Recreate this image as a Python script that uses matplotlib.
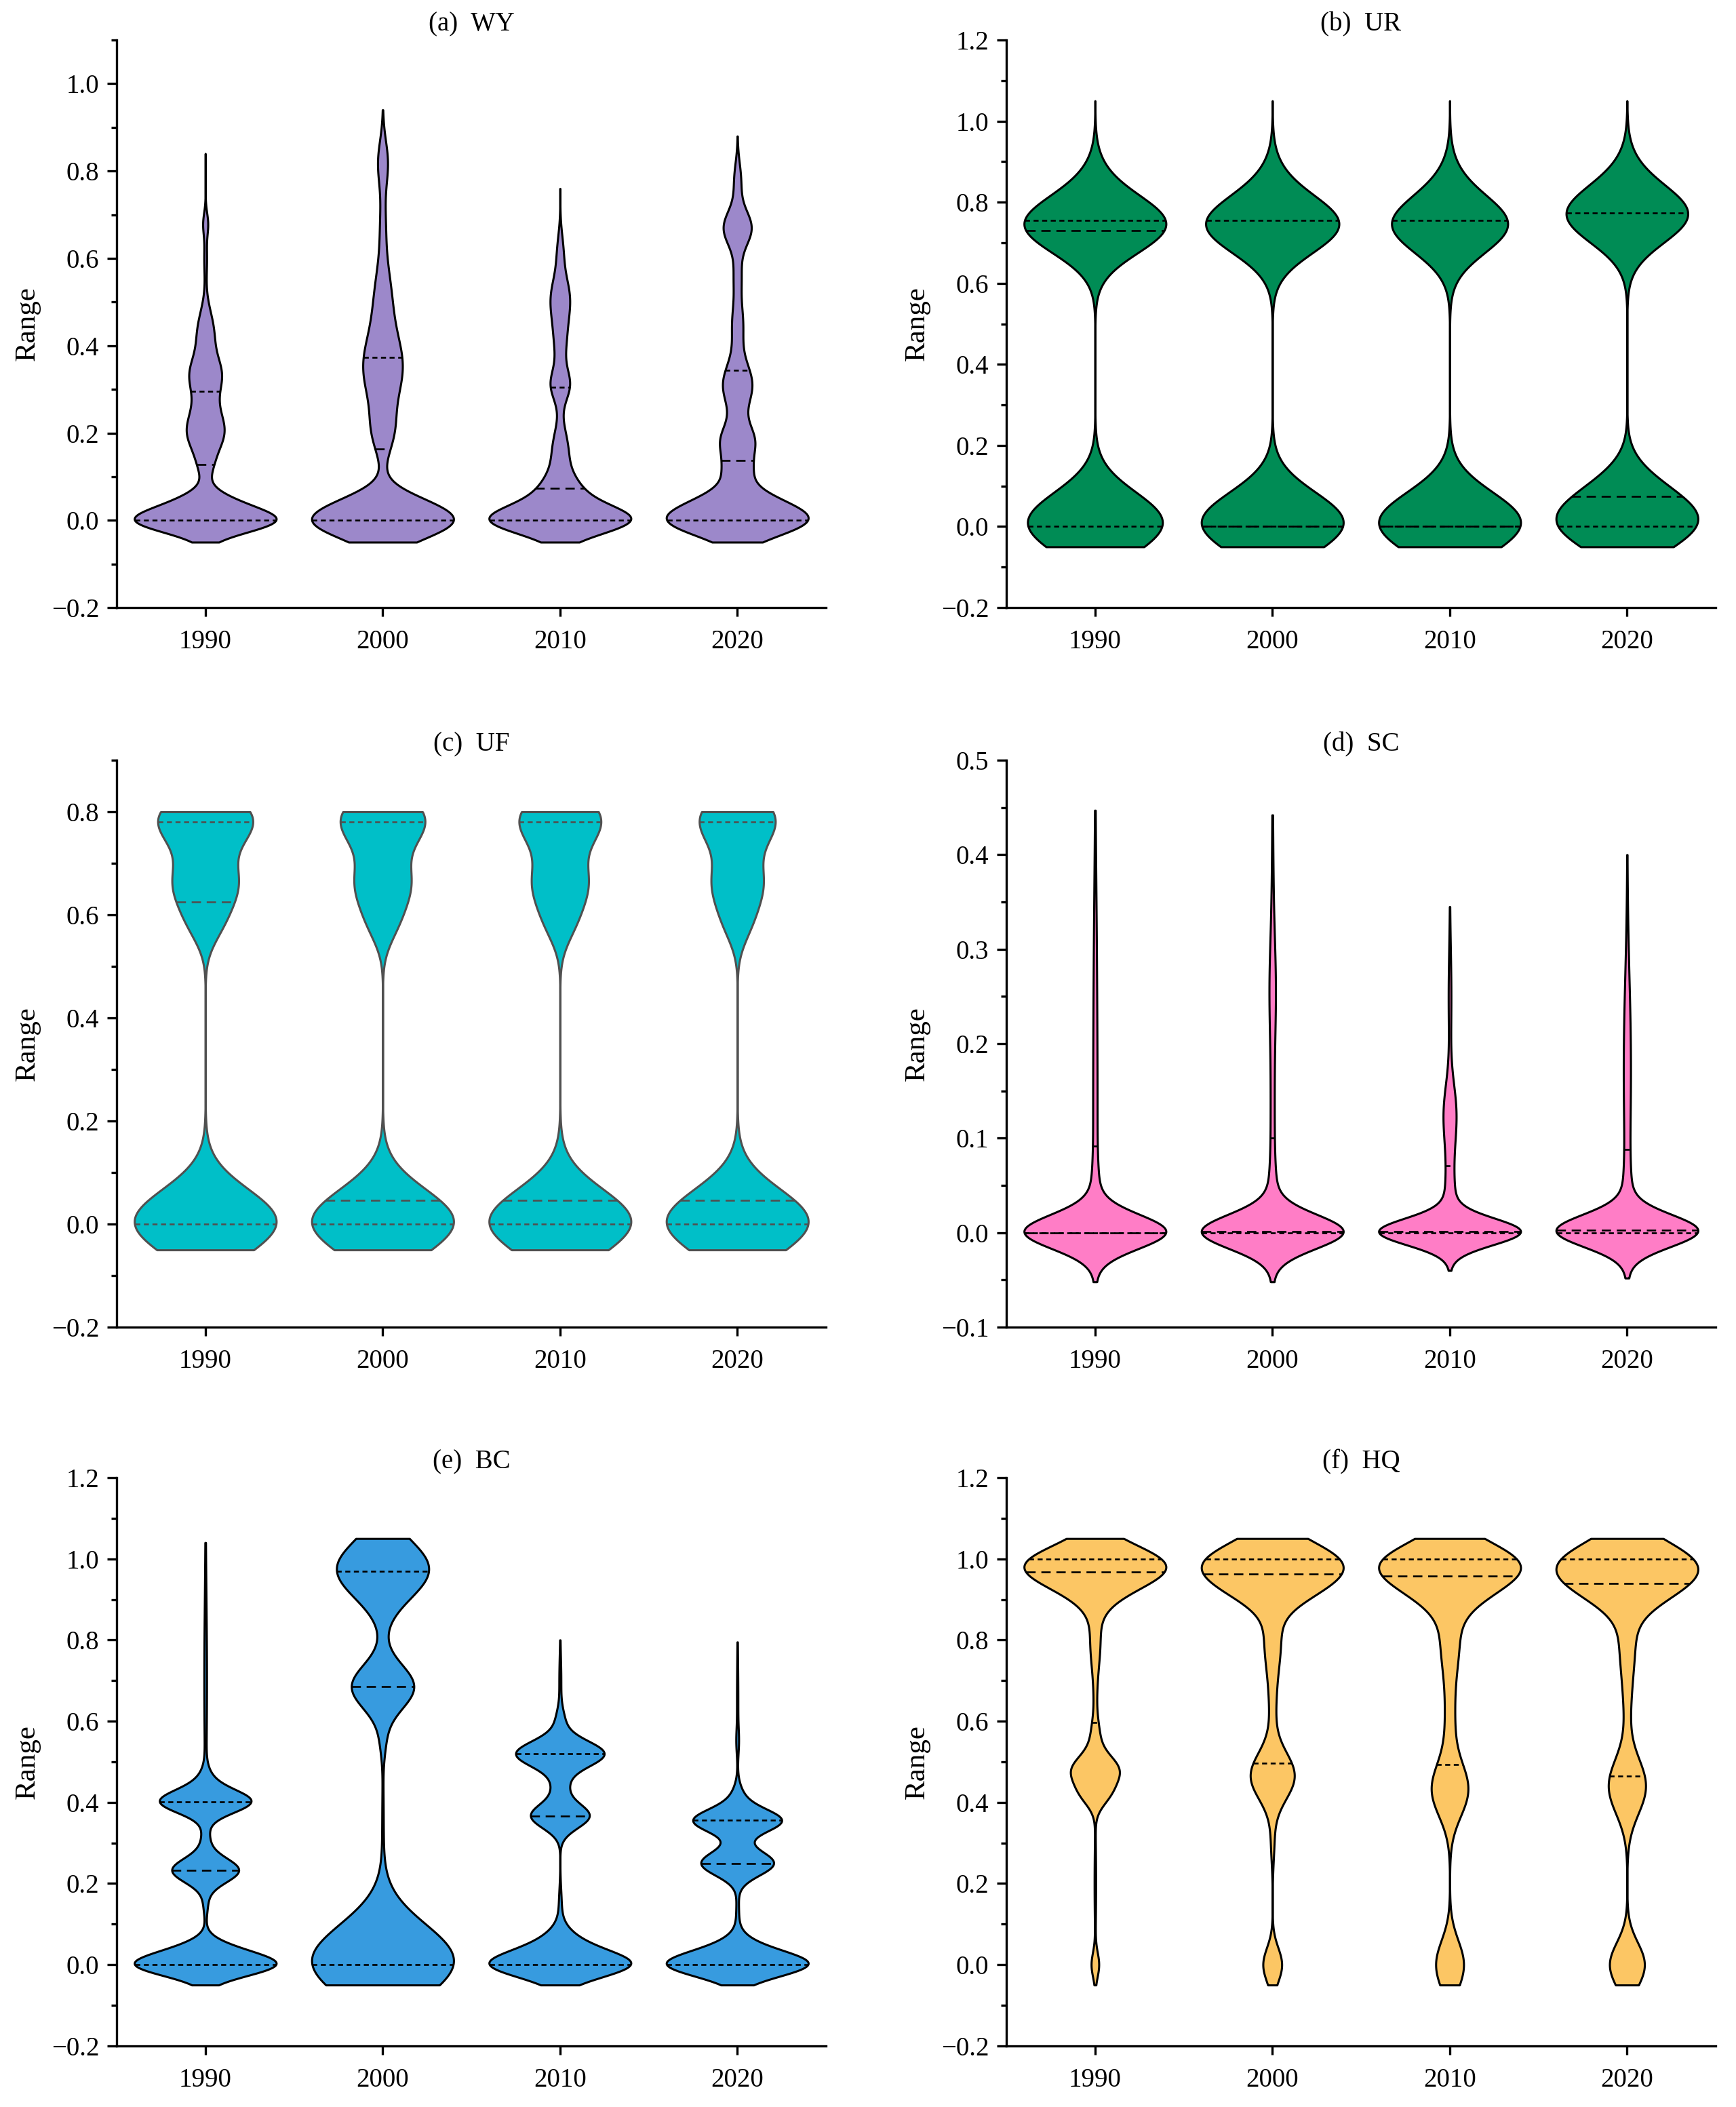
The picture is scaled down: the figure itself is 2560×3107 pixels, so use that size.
import numpy as np
import matplotlib
matplotlib.use("Agg")
import matplotlib.pyplot as plt
from matplotlib.ticker import MultipleLocator, FuncFormatter

plt.rcParams['font.family'] = ['Liberation Serif', 'DejaVu Serif']
plt.rcParams['axes.unicode_minus'] = True

years = ['1990', '2000', '2010', '2020']

# ---- violin shapes: density components (centre, spread, relative width) ----
WY_comps = [
    [(0.0, 0.028, 1.0), (0.045, 0.025, 0.25), (0.12, 0.03, 0.06), (0.2, 0.045, 0.26),
     (0.27, 0.04, 0.08), (0.335, 0.04, 0.2), (0.43, 0.05, 0.12), (0.6, 0.04, 0.02), (0.68, 0.025, 0.035)],
    [(0.0, 0.042, 1.0), (0.05, 0.03, 0.1), (0.2, 0.05, 0.12), (0.35, 0.08, 0.28),
     (0.52, 0.07, 0.1), (0.68, 0.06, 0.035), (0.82, 0.05, 0.07)],
    [(0.0, 0.032, 1.0), (0.06, 0.04, 0.3), (0.16, 0.05, 0.12), (0.31, 0.035, 0.14),
     (0.41, 0.05, 0.08), (0.51, 0.05, 0.14), (0.62, 0.04, 0.04)],
    [(0.0, 0.036, 1.0), (0.05, 0.03, 0.25), (0.11, 0.03, 0.15), (0.18, 0.04, 0.25), (0.31, 0.05, 0.22),
     (0.45, 0.05, 0.08), (0.56, 0.04, 0.05), (0.67, 0.04, 0.21), (0.78, 0.04, 0.05)],
]
WY_range = [(-0.05, 0.84), (-0.05, 0.94), (-0.05, 0.76), (-0.05, 0.88)]
WY_quart = [(0.0, 0.128, 0.296), (0.0, 0.163, 0.373), (0.0, 0.073, 0.305), (0.0, 0.137, 0.343)]

UR_comps = [
    [(0.01, 0.075, 0.96), (0.745, 0.07, 1.0), (0.86, 0.06, 0.06)],
    [(0.01, 0.075, 1.0), (0.745, 0.07, 0.93), (0.86, 0.06, 0.055)],
    [(0.01, 0.075, 1.0), (0.745, 0.07, 0.81), (0.86, 0.06, 0.05)],
    [(0.01, 0.07, 1.0), (0.1, 0.06, 0.2), (0.77, 0.07, 0.91), (0.88, 0.06, 0.05)],
]
UR_range = [(-0.05, 1.05)] * 4
UR_quart = [(0.0, 0.73, 0.755), (0.0, 0.0, 0.755), (0.0, 0.0, 0.755), (0.0, 0.074, 0.774)]

UF_comps = [
    [(0.005, 0.063, 1.0), (0.58, 0.04, 0.15), (0.66, 0.05, 0.42), (0.785, 0.05, 0.65)],
    [(0.005, 0.063, 1.0), (0.58, 0.04, 0.13), (0.66, 0.05, 0.36), (0.785, 0.05, 0.58)],
    [(0.005, 0.063, 1.0), (0.58, 0.04, 0.13), (0.66, 0.05, 0.36), (0.785, 0.05, 0.56)],
    [(0.005, 0.063, 1.0), (0.58, 0.04, 0.12), (0.66, 0.05, 0.33), (0.785, 0.05, 0.52)],
]
UF_range = [(-0.05, 0.8)] * 4
UF_quart = [(0.0, 0.625, 0.78), (0.0, 0.046, 0.78), (0.0, 0.046, 0.78), (0.0, 0.046, 0.78)]

SC_comps = [
    [(0.001, 0.018, 1.0), (0.03, 0.03, 0.04), (0.1, 0.12, 0.03), (0.3, 0.1, 0.015)],
    [(0.001, 0.018, 1.0), (0.03, 0.03, 0.04), (0.1, 0.12, 0.03), (0.26, 0.05, 0.03), (0.35, 0.08, 0.01)],
    [(0.001, 0.014, 1.0), (0.02, 0.025, 0.05), (0.07, 0.05, 0.05), (0.13, 0.03, 0.07), (0.25, 0.05, 0.02)],
    [(0.002, 0.017, 1.0), (0.03, 0.03, 0.04), (0.1, 0.12, 0.03), (0.2, 0.08, 0.03)],
]
SC_range = [(-0.052, 0.447), (-0.052, 0.442), (-0.04, 0.345), (-0.048, 0.4)]
SC_quart = [(0.0, 0.0, 0.092), (0.0, 0.001, 0.1), (0.0, 0.001, 0.071), (0.0, 0.0025, 0.088)]

BC_comps = [
    [(0.0, 0.028, 1.0), (0.04, 0.025, 0.22), (0.15, 0.03, 0.03), (0.233, 0.03, 0.5), (0.31, 0.03, 0.05),
     (0.402, 0.028, 0.66), (0.45, 0.03, 0.08), (0.7, 0.2, 0.02)],
    [(0.01, 0.09, 1.0), (0.35, 0.1, 0.01), (0.55, 0.04, 0.03), (0.685, 0.055, 0.44), (0.975, 0.072, 0.65)],
    [(0.0, 0.032, 1.0), (0.05, 0.035, 0.25), (0.15, 0.04, 0.02), (0.367, 0.03, 0.45), (0.44, 0.03, 0.1),
     (0.52, 0.032, 0.68), (0.6, 0.03, 0.06), (0.7, 0.06, 0.015)],
    [(0.0, 0.03, 1.0), (0.04, 0.03, 0.2), (0.13, 0.04, 0.02), (0.25, 0.03, 0.55), (0.3, 0.03, 0.03),
     (0.355, 0.028, 0.66), (0.41, 0.03, 0.08), (0.55, 0.03, 0.015), (0.65, 0.1, 0.01)],
]
BC_range = [(-0.05, 1.04), (-0.05, 1.05), (-0.05, 0.8), (-0.05, 0.795)]
BC_quart = [(0.0, 0.233, 0.402), (0.0, 0.685, 0.97), (0.0, 0.367, 0.52), (0.0, 0.25, 0.357)]

HQ_comps = [
    [(0.985, 0.05, 0.9), (0.92, 0.045, 0.15), (0.8, 0.06, 0.06), (0.68, 0.08, 0.02), (0.56, 0.04, 0.05),
     (0.48, 0.035, 0.3), (0.42, 0.03, 0.15), (0.2, 0.1, 0.01), (0.0, 0.03, 0.05)],
    [(0.99, 0.055, 0.85), (0.92, 0.045, 0.25), (0.8, 0.07, 0.1), (0.65, 0.08, 0.04),
     (0.465, 0.058, 0.29), (0.3, 0.05, 0.02), (0.0, 0.042, 0.125)],
    [(0.99, 0.055, 0.85), (0.92, 0.05, 0.25), (0.8, 0.08, 0.12), (0.6, 0.09, 0.06),
     (0.43, 0.065, 0.24), (0.0, 0.06, 0.19)],
    [(0.99, 0.058, 0.85), (0.92, 0.05, 0.3), (0.8, 0.08, 0.1), (0.65, 0.08, 0.04),
     (0.44, 0.068, 0.26), (0.0, 0.055, 0.245)],
]
HQ_range = [(-0.05, 1.05)] * 4
HQ_quart = [(0.597, 0.968, 1.0), (0.497, 0.962, 1.0), (0.493, 0.957, 1.0), (0.464, 0.94, 1.0)]

titles = ['(a)  WY', '(b)  UR', '(c)  UF', '(d)  SC', '(e)  BC', '(f)  HQ']
colors = ['#9C88CA', '#008C55', '#00BFC8', '#FF7DC6', '#379BDF', '#FCC664']
edges = ['black', 'black', '#505050', 'black', 'black', 'black']
ylims = [(-0.2, 1.1), (-0.2, 1.2), (-0.2, 0.9), (-0.1, 0.5), (-0.2, 1.2), (-0.2, 1.2)]
ymajor = [0.2, 0.2, 0.2, 0.1, 0.2, 0.2]

panels = [
    (WY_comps, WY_range, WY_quart),
    (UR_comps, UR_range, UR_quart),
    (UF_comps, UF_range, UF_quart),
    (SC_comps, SC_range, SC_quart),
    (BC_comps, BC_range, BC_quart),
    (HQ_comps, HQ_range, HQ_quart),
]

fig = plt.figure(figsize=(12.8, 15.535), dpi=200)
lefts = [0.0672, 0.5797]
rows = [(0.7116, 0.981), (0.3701, 0.6392), (0.029, 0.2987)]
width = 0.4758 - 0.0672

HALF = 0.4
LW = 1.1


def profile(comps, lo, hi):
    y = np.linspace(lo, hi, 1500)
    d = np.zeros_like(y)
    for m, s, w in comps:
        d += w * np.exp(-0.5 * ((y - m) / s) ** 2)
    return y, HALF * d / d.max()


def fmt(v, pos):
    s = '%.1f' % v
    if s == '-0.0':
        s = '0.0'
    return s.replace('-', '\u2212')


for i, (comps_list, ranges, quarts) in enumerate(panels):
    r, c = divmod(i, 2)
    b, t = rows[r]
    ax = fig.add_axes([lefts[c], b, width, t - b])
    ec = edges[i]
    for k in range(4):
        x0 = k + 1
        lo, hi = ranges[k]
        y, hw = profile(comps_list[k], lo, hi)
        ax.fill_betweenx(y, x0 - hw, x0 + hw, facecolor=colors[i], edgecolor=ec,
                         linewidth=LW, zorder=2)
        q1, med, q3 = quarts[k]
        for qv, dash in ((q1, (2.8, 2.0)), (q3, (2.8, 2.0)), (med, (5.2, 3.2))):
            h = np.interp(qv, y, hw)
            ax.plot([x0 - h, x0 + h], [qv, qv], color=ec, linewidth=0.95,
                    dashes=dash, zorder=3, solid_capstyle='butt', dash_capstyle='butt')
    ax.set_xlim(0.5, 4.5)
    ax.set_ylim(*ylims[i])
    ax.set_xticks([1, 2, 3, 4])
    ax.set_xticklabels(years)
    ax.yaxis.set_major_locator(MultipleLocator(ymajor[i]))
    ax.yaxis.set_minor_locator(MultipleLocator(ymajor[i] / 2))
    ax.yaxis.set_major_formatter(FuncFormatter(fmt))
    for sp in ['top', 'right']:
        ax.spines[sp].set_visible(False)
    for sp in ['left', 'bottom']:
        ax.spines[sp].set_linewidth(1.2)
    ax.tick_params(axis='y', which='major', direction='out', length=5.2, width=1.2,
                   labelsize=14, pad=4)
    ax.tick_params(axis='y', which='minor', direction='out', length=3, width=1.2)
    ax.tick_params(axis='x', which='major', direction='out', length=4.6, width=1.2,
                   labelsize=14, pad=7)
    ax.tick_params(axis='x', which='minor', bottom=False)
    ax.set_ylabel('Range', fontsize=15.5, labelpad=6)
    ax.set_title(titles[i], fontsize=14, pad=5)

fig.savefig('out.png', dpi=200)
